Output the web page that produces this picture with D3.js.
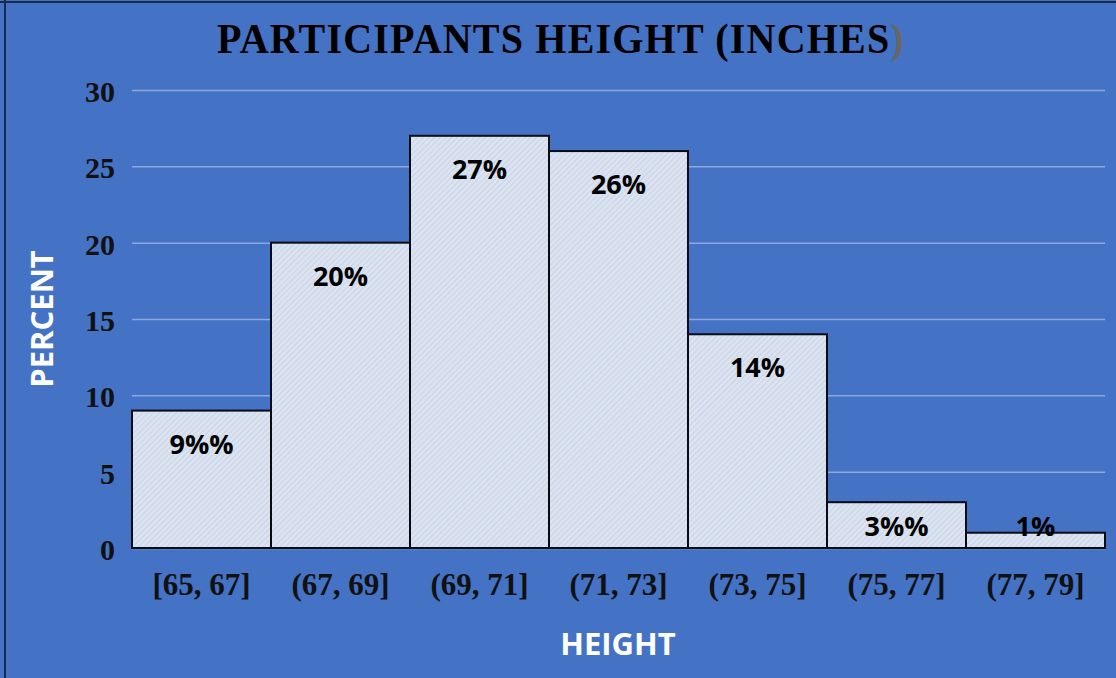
<!DOCTYPE html>
<html><head><meta charset="utf-8">
<script src="https://cdn.jsdelivr.net/npm/d3@7/dist/d3.min.js"></script>
<style>body{margin:0;background:#4472C4;} svg{display:block;}</style>
</head><body>
<svg id="c" width="1116" height="678"></svg>
<script>
const categories = ["[65, 67]","(67, 69]","(69, 71]","(71, 73]","(73, 75]","(75, 77]","(77, 79]"];
const values = [9, 20, 27, 26, 14, 3, 1];
const labels = ["9%%","20%","27%","26%","14%","3%%","1%"];
const yTicks = [0,5,10,15,20,25,30];

(function(){
const svg = d3.select("#c");
const W = 1116, H = 678;
const mLeft = 132, mRight = 1105, mTop = 90, mBottom = 548;

svg.append("rect").attr("width",W).attr("height",H).attr("fill","#4472C4");
svg.append("line").attr("x1",5).attr("x2",5).attr("y1",0).attr("y2",H).attr("stroke","#1a2a4a").attr("stroke-width",2);
svg.append("line").attr("x1",0).attr("x2",W).attr("y1",2).attr("y2",2).attr("stroke","#1a2a4a").attr("stroke-width",2);

const defs = svg.append("defs");
const pat = defs.append("pattern").attr("id","hatch").attr("patternUnits","userSpaceOnUse")
  .attr("width",4).attr("height",4).attr("patternTransform","rotate(45)");
pat.append("rect").attr("width",4).attr("height",4).attr("fill","#dbe3f1");
pat.append("line").attr("x1",0).attr("x2",0).attr("y1",0).attr("y2",4).attr("stroke","#bccade").attr("stroke-width",1.2);

const x = d3.scaleBand().domain(categories).range([mLeft,mRight]).padding(0);
const y = d3.scaleLinear().domain([0,30]).range([mBottom,mTop]);

const grid = svg.append("g").attr("transform",`translate(${mLeft},0)`)
  .call(d3.axisLeft(y).tickValues(yTicks).tickSize(-(mRight-mLeft)).tickFormat(""));
grid.select(".domain").remove();
grid.selectAll("line").attr("stroke","#8ea8dc").attr("stroke-width",1.5);

const ya = svg.append("g").attr("transform",`translate(${mLeft-17},2)`)
  .call(d3.axisLeft(y).tickValues(yTicks).tickSize(0).tickPadding(0));
ya.select(".domain").remove();
ya.selectAll("text").attr("font-family","Liberation Serif, Times New Roman, serif")
  .attr("font-weight","bold").attr("font-size",30).attr("fill","#111");

svg.selectAll("rect.bar").data(values).enter().append("rect").attr("class","bar")
  .attr("x",(d,i)=>x(categories[i])).attr("width",x.bandwidth())
  .attr("y",d=>y(d)).attr("height",d=>y(0)-y(d))
  .attr("fill","url(#hatch)").attr("stroke","#070b14").attr("stroke-width",2);

svg.selectAll("text.lbl").data(values).enter().append("text").attr("class","lbl")
  .attr("x",(d,i)=>x(categories[i])+x.bandwidth()/2)
  .attr("y",d=>Math.min(y(d)+43, y(0)-12))
  .attr("text-anchor","middle").attr("font-family","Open Sans, Liberation Sans, sans-serif")
  .attr("font-weight","bold").attr("font-size",27).attr("fill","#000")
  .text((d,i)=>labels[i]);

const xa = svg.append("g").attr("transform",`translate(0,${mBottom})`)
  .call(d3.axisBottom(x).tickSize(0).tickPadding(0));
xa.select(".domain").remove();
xa.selectAll("text").attr("font-family","Liberation Serif, Times New Roman, serif")
  .attr("font-weight","bold").attr("font-size",31).attr("fill","#111").attr("dy","47");

const t = svg.append("text").attr("transform","translate(561,53) scale(1,1.08)").attr("text-anchor","middle")
  .attr("font-family","Liberation Serif, Times New Roman, serif").attr("font-weight","bold")
  .attr("font-size",40).attr("letter-spacing",1.2).attr("fill","#000");
t.append("tspan").text("PARTICIPANTS HEIGHT (INCHES");
t.append("tspan").attr("fill","#666").text(")");

svg.append("text").attr("transform","translate(53,319) rotate(-90)").attr("text-anchor","middle")
  .attr("font-family","Open Sans, Liberation Sans, sans-serif").attr("font-weight","bold")
  .attr("font-size",31).attr("fill","#fff").text("PERCENT");
svg.append("text").attr("x",618).attr("y",655).attr("text-anchor","middle")
  .attr("font-family","Open Sans, Liberation Sans, sans-serif").attr("font-weight","bold")
  .attr("font-size",31).attr("fill","#fff").text("HEIGHT");
})();
</script>
</body></html>
